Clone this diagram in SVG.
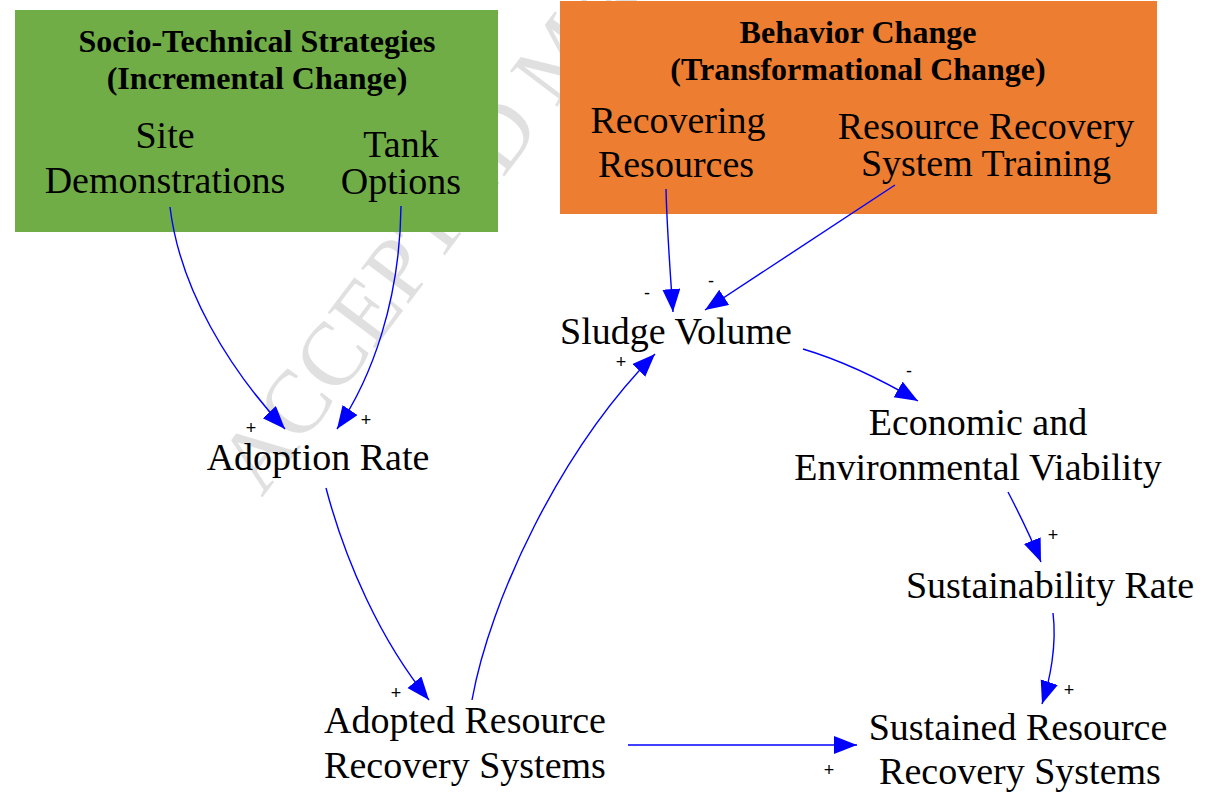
<svg xmlns="http://www.w3.org/2000/svg" width="1205" height="792" viewBox="0 0 1205 792">
<defs>
<style>
.node{font-family:"Liberation Serif","Times New Roman",serif;font-size:38px;fill:#000;text-anchor:middle}
.title{font-family:"Liberation Serif","Times New Roman",serif;font-size:32px;font-weight:bold;fill:#000;text-anchor:middle}
.lbl{font-family:"Liberation Sans",Arial,sans-serif;font-size:18px;fill:#000;text-anchor:middle}
.edge{fill:none;stroke:#0000FF;stroke-width:1.4}
.wm{font-family:"Liberation Serif","Times New Roman",serif;font-size:90px;fill:#e0e0e0}
</style>
<marker id="arr" markerUnits="userSpaceOnUse" markerWidth="24" markerHeight="20" refX="23" refY="9" orient="auto">
<path d="M0,0 L23,9 L0,18 Z" fill="#0000FF"/>
</marker>
</defs>
<rect width="1205" height="792" fill="#fff"/>
<text class="wm" transform="translate(262,498) rotate(-53)">ACCEPTED MANUSCRIPT</text>

<g id="socio-technical">
<rect x="15" y="10" width="483" height="222" fill="#70AD47"/>
<text class="title" x="257" y="52">Socio-Technical Strategies</text>
<text class="title" x="257" y="89">(Incremental Change)</text>
</g>
<g id="site-demonstrations">
<text class="node" x="165" y="148">Site</text>
<text class="node" x="165" y="193">Demonstrations</text>
</g>
<g id="tank-options">
<text class="node" x="401" y="157">Tank</text>
<text class="node" x="401" y="194">Options</text>
</g>

<g id="behavior-change">
<rect x="560" y="1" width="597" height="213" fill="#ED7D31"/>
<text class="title" x="858" y="43">Behavior Change</text>
<text class="title" x="858" y="80">(Transformational Change)</text>
</g>
<g id="recovering-resources">
<text class="node" x="678" y="133">Recovering</text>
<text class="node" x="676" y="177">Resources</text>
</g>
<g id="rr-system-training">
<text class="node" x="986" y="139">Resource Recovery</text>
<text class="node" x="986" y="176">System Training</text>
</g>

<g id="sludge-volume"><text class="node" x="676" y="344">Sludge Volume</text></g>
<g id="adoption-rate"><text class="node" x="318" y="470">Adoption Rate</text></g>
<g id="econ-env-viability">
<text class="node" x="978" y="435">Economic and</text>
<text class="node" x="978" y="480">Environmental Viability</text>
</g>
<g id="sustainability-rate"><text class="node" x="1050" y="598">Sustainability Rate</text></g>
<g id="adopted-rrs">
<text class="node" x="465" y="733">Adopted Resource</text>
<text class="node" x="465" y="778">Recovery Systems</text>
</g>
<g id="sustained-rrs">
<text class="node" x="1018" y="740">Sustained Resource</text>
<text class="node" x="1020" y="784">Recovery Systems</text>
</g>

<g id="connectors">
<path class="edge" marker-end="url(#arr)" d="M170,207 C180,290 230,370 285,429"/>
<path class="edge" marker-end="url(#arr)" d="M401,206 C400,300 372,378 337,429"/>
<path class="edge" marker-end="url(#arr)" d="M666,189 C667,230 670,270 673,312"/>
<path class="edge" marker-end="url(#arr)" d="M895,185 L705,310"/>
<path class="edge" marker-end="url(#arr)" d="M803,349 C840,360 882,380 918,401"/>
<path class="edge" marker-end="url(#arr)" d="M1008,492 C1020,515 1032,540 1041,562"/>
<path class="edge" marker-end="url(#arr)" d="M1053,613 C1057,645 1050,680 1042,704"/>
<path class="edge" marker-end="url(#arr)" d="M326,488 C345,560 380,640 429,700"/>
<path class="edge" marker-end="url(#arr)" d="M472,700 C490,600 560,450 655,354"/>
<path class="edge" marker-end="url(#arr)" d="M628,745 L857,745"/>
<text class="lbl" x="251" y="434">+</text>
<text class="lbl" x="366" y="426">+</text>
<text class="lbl" x="647" y="299">-</text>
<text class="lbl" x="711" y="287">-</text>
<text class="lbl" x="621" y="368">+</text>
<text class="lbl" x="909" y="377">-</text>
<text class="lbl" x="1053" y="541">+</text>
<text class="lbl" x="1069" y="696">+</text>
<text class="lbl" x="396" y="699">+</text>
<text class="lbl" x="829" y="776">+</text>
</g>
</svg>
